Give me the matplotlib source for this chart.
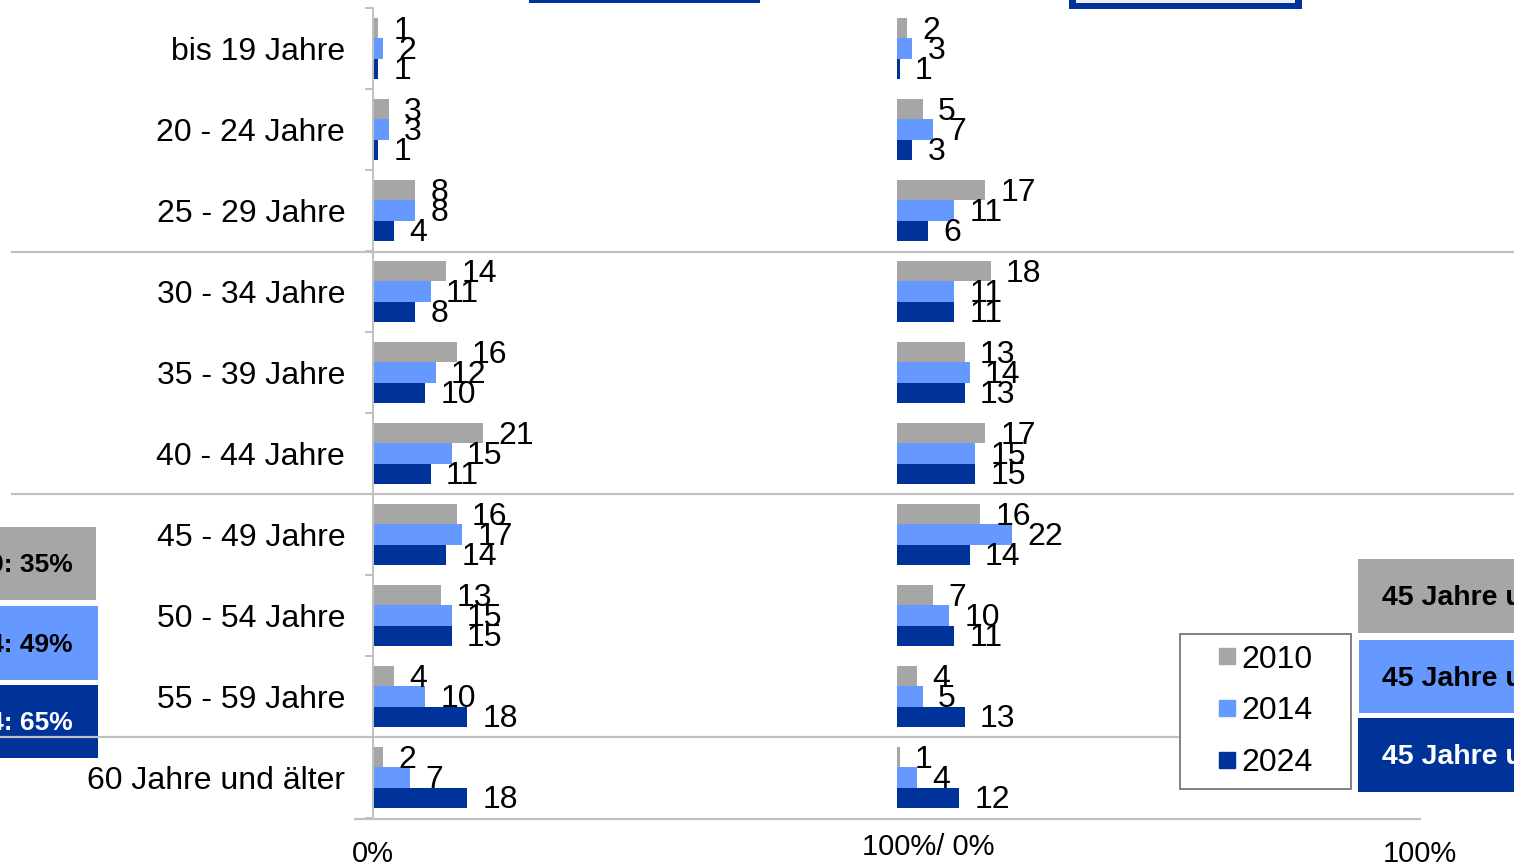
import matplotlib.pyplot as plt
from matplotlib.patches import Rectangle
from matplotlib.lines import Line2D

plt.rcParams['font.family'] = ['Liberation Sans', 'DejaVu Sans']

W, H = 1514, 866

categories = ['bis 19 Jahre', '20 - 24 Jahre', '25 - 29 Jahre', '30 - 34 Jahre',
              '35 - 39 Jahre', '40 - 44 Jahre', '45 - 49 Jahre', '50 - 54 Jahre',
              '55 - 59 Jahre', '60 Jahre und älter']
years = ['2010', '2014', '2024']
colors = ['#a6a6a6', '#6699ff', '#003399']

# left panel (in %)
left_2010 = [1, 3, 8, 14, 16, 21, 16, 13, 4, 2]
left_2014 = [2, 3, 8, 11, 12, 15, 17, 15, 10, 7]
left_2024 = [1, 1, 4, 8, 10, 11, 14, 15, 18, 18]
# right panel (in %)
right_2010 = [2, 5, 17, 18, 13, 17, 16, 7, 4, 0.6]
right_2014 = [3, 7, 11, 11, 14, 15, 22, 10, 5, 4]
right_2024 = [0.6, 3, 6, 11, 13, 15, 14, 11, 13, 12]

left_share = ['45 Jahre und älter 2010: 35%', '45 Jahre und älter 2014: 49%',
              '45 Jahre und älter 2024: 65%']
right_share = ['45 Jahre und älter 2010: 28%', '45 Jahre und älter 2014: 41%',
               '45 Jahre und älter 2024: 50%']


def fx(px):
    return px / W


def fy(py):
    return 1 - py / H


fig = plt.figure(figsize=(W / 100, H / 100), dpi=100)
ax = fig.add_axes([fx(373), fy(818), fx(1420) - fx(373), fy(8) - fy(818)])
ax.set_facecolor('none')

bh = 0.247
offsets = [-bh, 0, bh]
lefts = [left_2010, left_2014, left_2024]
rights = [right_2010, right_2014, right_2024]
ys = list(range(len(categories)))

for k in range(3):
    pos = [y + offsets[k] for y in ys]
    ax.barh(pos, lefts[k], height=bh, color=colors[k], label=years[k])
    ax.barh(pos, rights[k], height=bh, left=100, color=colors[k])
    for p, v in zip(pos, lefts[k]):
        ax.annotate('%.0f' % v, xy=(v, p), xytext=(11, -2), textcoords='offset points',
                    va='center', ha='left', fontsize=23)
    for p, v in zip(pos, rights[k]):
        ax.annotate('%.0f' % v, xy=(100 + v, p), xytext=(11, -2), textcoords='offset points',
                    va='center', ha='left', fontsize=23)

ax.set_xlim(0, 200)
ax.set_ylim(len(categories) - 0.5, -0.5)
ax.set_yticks(ys)
ax.set_yticklabels(categories, fontsize=23)
ax.set_yticks([y - 0.5 for y in range(len(categories) + 1)], minor=True)
ax.tick_params(axis='y', which='major', length=0, pad=20)
ax.tick_params(axis='y', which='minor', length=6, width=1.4, color='#c0c0c0')
ax.set_xticks([])
for s in ['top', 'right', 'bottom']:
    ax.spines[s].set_visible(False)
ax.spines['left'].set_color('#c0c0c0')
ax.spines['left'].set_linewidth(1.4)

# x labels
fig.text(fx(373), fy(854), '0%', ha='center', va='center', fontsize=21)
fig.text(fx(862), fy(847), '100%/ 0%', ha='left', va='center', fontsize=21)
fig.text(fx(1420), fy(854), '100%', ha='center', va='center', fontsize=21)

# separator lines
sep = '#c0c0c0'
fig.add_artist(Line2D([fx(12), 1], [fy(252), fy(252)], color=sep, lw=1.6))
fig.add_artist(Line2D([fx(12), 1], [fy(494), fy(494)], color=sep, lw=1.6))
fig.add_artist(Line2D([0, fx(1178)], [fy(737), fy(737)], color=sep, lw=1.6))
fig.add_artist(Line2D([fx(355), fx(1420)], [fy(819), fy(819)], color=sep, lw=1.6))

# legend
fig.legend(handles=[Line2D([], [], marker='s', ls='none', color=c, markersize=11.5)
                    for c in colors],
           labels=years, loc='upper left',
           bbox_to_anchor=(fx(1180), fy(788), fx(1351) - fx(1180), fy(634) - fy(788)),
           mode='expand', fontsize=23, handlelength=2.3, handletextpad=-0.72,
           labelspacing=0.68, borderpad=0.33, borderaxespad=0, fancybox=False,
           edgecolor='#808080', framealpha=1)
fig.legends[0].get_frame().set_linewidth(1.4)

# side boxes
left_boxes = [(0, 96, 527, 600), (0, 98, 606, 680), (0, 98, 685, 758)]
right_boxes = [(1358, 1520, 559, 633), (1359, 1520, 640, 713), (1358, 1520, 718, 792)]
txt_colors = ['black', 'black', 'white']
for k in range(3):
    x0, x1, y0, y1 = left_boxes[k]
    fig.add_artist(Rectangle((fx(x0), fy(y1)), fx(x1 - x0), (y1 - y0) / H,
                             color=colors[k], lw=0))
    fig.text(fx(73), fy((y0 + y1) / 2 + 2), left_share[k], ha='right', va='center',
             fontsize=19, fontweight='bold', color=txt_colors[k])
    x0, x1, y0, y1 = right_boxes[k]
    fig.add_artist(Rectangle((fx(x0), fy(y1)), fx(x1 - x0), (y1 - y0) / H,
                             color=colors[k], lw=0))
    fig.text(fx(1382), fy((y0 + y1) / 2 + 2), right_share[k], ha='left', va='center',
             fontsize=20.5, fontweight='bold', color=txt_colors[k])

# boxes cut at the top edge
fig.add_artist(Rectangle((fx(529), fy(3)), fx(231), 3 / H + 0.01, color='#003399', lw=0))
fig.add_artist(Rectangle((fx(1069), fy(9)), fx(233), 9 / H + 0.01, color='#003399', lw=0))
fig.add_artist(Rectangle((fx(1076), fy(3)), fx(219), 3 / H + 0.01, color='#efefef', lw=0))

fig.savefig('out.png', dpi=100)
